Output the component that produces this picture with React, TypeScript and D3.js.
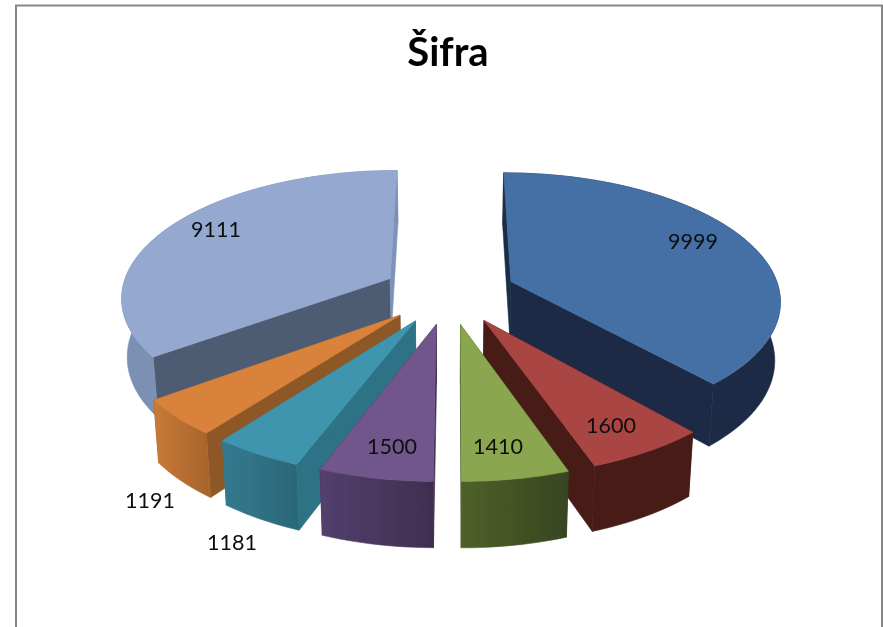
import { useEffect, useRef } from "react";
import * as d3 from "d3";

// clockwise from 12 o'clock
const values = [9999, 1600, 1410, 1500, 1181, 1191, 9111];
const labels = ["9999", "1600", "1410", "1500", "1181", "1191", "9111"];

const topColors = ["#4470A6", "#A94442", "#8AA64F", "#71568C", "#3F95AE", "#D9823B", "#94A8D0"];
const rimFrom = ["#1A2D46", "#461B19", "#4F6128", "#53406D", "#337A8E", "#C97A38", "#7C90B4"];
const rimTo = ["#1A2C45", "#461B19", "#384520", "#3F2E50", "#2B6878", "#A9652C", "#7C90B4"];
const startWall = ["#1A2D46", "#461B19", "#384520", "#3F2E50", "#2E7285", "#8E5827", "#4E5C72"];
const endWall = ["#1A2C45", "#461B19", "#384520", "#3F2E50", "#2E7285", "#8E5827", "#7E93BA"];

// label centres, px
const labelX = [693, 611, 498, 392, 232, 150, 216];
const labelY = [241, 425, 446, 446, 542, 500, 229];

const WIDTH = 883;
const HEIGHT = 627;

// pie plane -> screen, with a bit of perspective
const cx = 449;
const cy = 292.6;
const R = 269;
const explode = 67;
const persp = 0.0005;
const tilt = 0.469;
const depth = 58;
const shrink = 0.983;

const projTop = (X: number, Y: number): [number, number] => {
  const s = 1 / (1 + persp * Y);
  return [cx + X * s, cy - tilt * Y * s];
};
const projBottom = (X: number, Y: number): [number, number] => {
  const s = 1 / (1 + persp * Y);
  return [cx + shrink * X * s, cy - shrink * tilt * Y * s + depth * s];
};

const App = () => {
  const ref = useRef<SVGSVGElement | null>(null);

  useEffect(() => {
    const el = ref.current;
    if (!el) return;
    const svg = d3.select(el);
    svg.selectAll("*").remove();

    const line = d3.line();
    const defs = svg.append("defs");

    // the reference is a slightly soft screenshot
    defs.append("filter")
      .attr("id", "soft")
      .attr("x", 0).attr("y", 0).attr("width", 1).attr("height", 1)
      .append("feGaussianBlur")
      .attr("stdDeviation", 0.45);

    const root = svg.append("g").attr("filter", "url(#soft)");

    root.append("rect").attr("width", WIDTH).attr("height", HEIGHT).attr("fill", "#fff");

    // chart frame, bottom edge runs off the page
    root.append("rect")
      .attr("x", 16).attr("y", 5.5)
      .attr("width", 866).attr("height", HEIGHT + 20)
      .attr("fill", "#fff")
      .attr("stroke", "#868686")
      .attr("stroke-width", 2);

    root.append("text")
      .attr("x", 448).attr("y", 66)
      .attr("text-anchor", "middle")
      .style("font-family", "Lato, sans-serif")
      .style("font-weight", 700)
      .style("font-size", "40px")
      .style("fill", "#000")
      .text("Šifra");

    const arcs = d3.pie<number>().sort(null).value(d => d)(values);

    const slices = arcs.map((a, i) => {
      const mid = (a.startAngle + a.endAngle) / 2;
      const ox = explode * Math.sin(mid);
      const oy = explode * Math.cos(mid);
      const steps = Math.ceil((a.endAngle - a.startAngle) / 0.03);
      const rim = d3.range(steps + 1).map(k => {
        const t = a.startAngle + ((a.endAngle - a.startAngle) * k) / steps;
        return [ox + R * Math.sin(t), oy + R * Math.cos(t)] as [number, number];
      });
      return { i, ox, oy, rim, order: Math.cos(mid) };
    });

    // paint far slices first
    slices.sort((a, b) => d3.descending(a.order, b.order)).forEach(({ i, ox, oy, rim }) => {
      const g = root.append("g");
      const first = rim[0];
      const last = rim[rim.length - 1];

      // same colour stroke closes the seams between faces
      const wall = (p: [number, number], fill: string) =>
        g.append("path")
          .attr("d", line([
            projTop(ox, oy), projTop(p[0], p[1]),
            projBottom(p[0], p[1]), projBottom(ox, oy),
          ])! + "Z")
          .attr("fill", fill)
          .attr("stroke", fill)
          .attr("stroke-width", 0.6);

      wall(first, startWall[i]);
      wall(last, endWall[i]);

      // rim shading runs across the visible face
      const xs = rim.map(p => projTop(p[0], p[1])[0]);
      const grad = defs.append("linearGradient")
        .attr("id", `rim${i}`)
        .attr("gradientUnits", "userSpaceOnUse")
        .attr("x1", d3.min(xs)!).attr("y1", 0)
        .attr("x2", d3.max(xs)!).attr("y2", 0);
      grad.append("stop").attr("offset", "0%").attr("stop-color", rimFrom[i]);
      grad.append("stop").attr("offset", "100%").attr("stop-color", rimTo[i]);

      g.append("path")
        .attr("d", line([
          ...rim.map(p => projTop(p[0], p[1])),
          ...rim.slice().reverse().map(p => projBottom(p[0], p[1])),
        ])! + "Z")
        .attr("fill", `url(#rim${i})`)
        .attr("stroke", `url(#rim${i})`)
        .attr("stroke-width", 0.6);

      g.append("path")
        .attr("d", line([projTop(ox, oy), ...rim.map(p => projTop(p[0], p[1]))])! + "Z")
        .attr("fill", topColors[i])
        .attr("stroke", topColors[i])
        .attr("stroke-width", 0.6);
    });

    // value labels
    root.selectAll(".val-label")
      .data(labels)
      .enter()
      .append("text")
      .attr("class", "val-label")
      .attr("x", (_, i) => labelX[i])
      .attr("y", (_, i) => labelY[i])
      .attr("text-anchor", "middle")
      .attr("dominant-baseline", "central")
      .style("font-family", "Lato, sans-serif")
      .style("font-size", "21.5px")
      .style("fill", "#111")
      .text(d => d);
  }, []);

  return (
    <svg
      ref={ref}
      width={WIDTH}
      height={HEIGHT}
      style={{ position: "absolute", left: 0, top: 0, display: "block", background: "#fff" }}
    />
  );
};

export default App;
